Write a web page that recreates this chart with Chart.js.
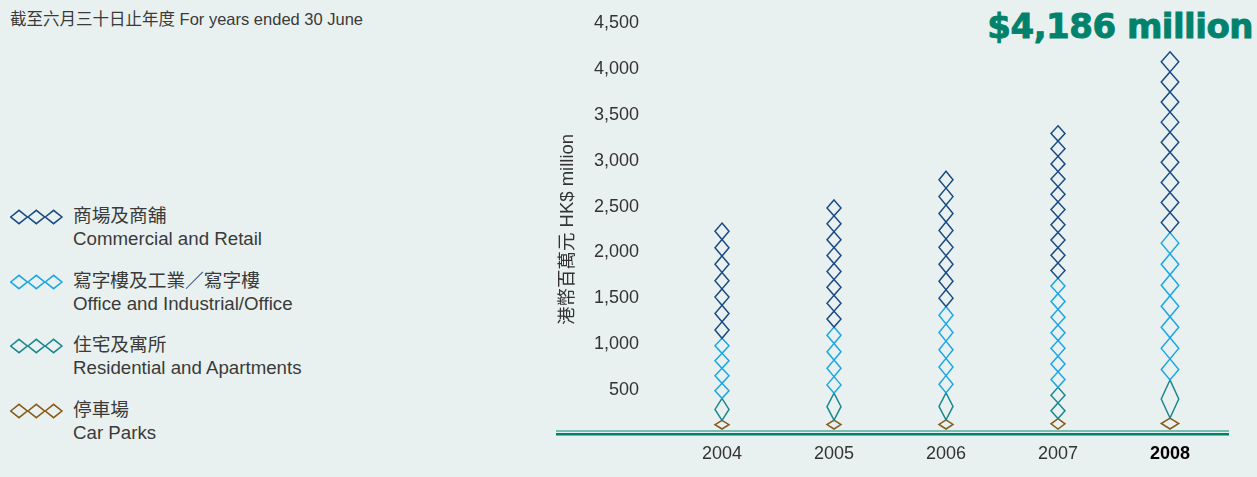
<!DOCTYPE html>
<html>
<head>
<meta charset="utf-8">
<script src="https://cdn.jsdelivr.net/npm/chart.js@4"></script>
<style>
  html, body { margin: 0; padding: 0; }
  body {
    width: 1257px; height: 477px; overflow: hidden; position: relative;
    background: #e9f1f0;
    font-family: "Liberation Sans", "Noto Sans CJK TC", sans-serif;
    color: #3a3a3a;
  }
  #wrap { position: absolute; left: 0; top: 0; width: 1257px; height: 477px; }
  .note { position: absolute; left: 10px; top: 6px; font-size: 16.5px; white-space: nowrap; }
  .total {
    position: absolute; right: 4px; top: 6px; white-space: nowrap;
    font-family: "DejaVu Sans", sans-serif; font-weight: bold; font-size: 34px;
    color: #00826c; letter-spacing: -0.5px; -webkit-text-stroke: 0.9px #00826c;
  }
  .legend { position: absolute; left: 10px; top: 204px; }
  .item { position: relative; height: 64.5px; }
  .item svg { position: absolute; left: 0; top: 5px; }
  .item .txt { position: absolute; left: 63px; top: 0; font-size: 18.7px; line-height: 23px; white-space: nowrap; }
</style>
</head>
<body>
<div class="note">截至六月三十日止年度 For years ended 30 June</div>
<div class="total">$4,186 million</div>
<div class="legend" id="legend"></div>
<div id="wrap"><canvas id="grafico-renda" width="1257" height="477"></canvas></div>
<script>
// exercicios e receita por segmento (HK$ milhoes)
const years = ['2004', '2005', '2006', '2007', '2008'];
const commercial = [1255, 1385, 1475, 1660, 1970];
const office = [655, 720, 940, 1190, 1605];
const residential = [240, 295, 295, 340, 415];
const carParks = [170, 172, 175, 190, 196];
const yTicks = [500, 1000, 1500, 2000, 2500, 3000, 3500, 4000, 4500];

// quantos losangos em cada segmento da coluna
const countsCommercial = [7, 8, 8, 10, 9];
const countsOffice = [4, 4, 5, 7, 7];
const countsResidential = [1, 1, 1, 2, 1];
const countsCarParks = [1, 1, 1, 1, 1];

const highlightYear = '2008';
const fontFamily = '"Liberation Sans", "Noto Sans CJK TC", sans-serif';

const series = [
    { zh: '停車場', en: 'Car Parks', data: carParks, counts: countsCarParks, color: '#8a5a1c', floor: true },
    { zh: '住宅及寓所', en: 'Residential and Apartments', data: residential, counts: countsResidential, color: '#1b8890' },
    { zh: '寫字樓及工業／寫字樓', en: 'Office and Industrial/Office', data: office, counts: countsOffice, color: '#1ba6e6' },
    { zh: '商場及商舖', en: 'Commercial and Retail', data: commercial, counts: countsCommercial, color: '#1a4c84' }
];

// legenda em html, de cima para baixo
var legend = document.getElementById('legend');
series.slice().reverse().forEach(function (s) {
    var item = document.createElement('div');
    item.className = 'item';
    var svg = '<svg width="54" height="16" viewBox="0 0 54 16">';
    for (var k = 0; k < 3; k++) {
        var cx = 9 + k * 17.3;
        svg += '<polygon points="' + (cx - 8.3) + ',8 ' + cx + ',1.3 ' + (cx + 8.3) + ',8 ' + cx + ',14.7" fill="none" stroke="' + s.color + '" stroke-width="1.6"/>';
    }
    svg += '</svg>';
    item.innerHTML = svg + '<div class="txt">' + s.zh + '<br>' + s.en + '</div>';
    legend.appendChild(item);
});

// desenha os losangos dentro de cada segmento empilhado
const diamondPlugin = {
    id: 'diamonds',
    afterDatasetsDraw(chart) {
        const ctx = chart.ctx;
        const y0 = chart.scales.y.getPixelForValue(0);
        chart.data.datasets.forEach((ds, di) => {
            const meta = chart.getDatasetMeta(di);
            meta.data.forEach((bar, i) => {
                const w = years[i] === highlightYear ? 17.5 : 14;
                const top = bar.y;
                let bottom = bar.base;
                if (ds.floor) bottom = Math.min(bottom, y0 - 7);
                const n = ds.counts[i];
                const h = (bottom - top) / n;
                ctx.save();
                ctx.strokeStyle = ds.borderColor;
                ctx.lineWidth = 1.5;
                for (let k = 0; k < n; k++) {
                    const t = top + k * h;
                    ctx.beginPath();
                    ctx.moveTo(bar.x, t);
                    ctx.lineTo(bar.x + w / 2, t + h / 2);
                    ctx.lineTo(bar.x, t + h);
                    ctx.lineTo(bar.x - w / 2, t + h / 2);
                    ctx.closePath();
                    ctx.stroke();
                }
                ctx.restore();
            });
        });
    }
};

// linha dupla da base
const baseLinePlugin = {
    id: 'baseLine',
    afterDraw(chart) {
        const ctx = chart.ctx;
        const y0 = chart.scales.y.getPixelForValue(0);
        const x1 = 556, x2 = chart.chartArea.right + 3;
        ctx.save();
        ctx.fillStyle = '#76bfb0';
        ctx.fillRect(x1, y0 - 6, x2 - x1, 2);
        ctx.fillStyle = '#00806a';
        ctx.fillRect(x1, y0 - 3, x2 - x1, 2.5);
        ctx.restore();
    }
};

new Chart(document.getElementById('grafico-renda'), {
    type: 'bar',
    data: {
        labels: years,
        datasets: series.map(s => ({
            label: s.en,
            data: s.data,
            counts: s.counts,
            floor: !!s.floor,
            backgroundColor: 'rgba(0,0,0,0)',
            borderColor: s.color,
            borderWidth: 0,
            barPercentage: 0.9,
            categoryPercentage: 0.14
        }))
    },
    options: {
        responsive: false,
        animation: false,
        layout: {
            padding: { top: 23, bottom: 0, left: 556, right: 31 }
        },
        plugins: {
            legend: { display: false },
            tooltip: { enabled: true }
        },
        scales: {
            x: {
                stacked: true,
                offset: true,
                grid: { display: false, drawTicks: false },
                border: { display: false },
                ticks: {
                    padding: 7,
                    color: c => years[c.index] === highlightYear ? '#000' : '#333',
                    font: c => ({ family: fontFamily, size: 18, weight: years[c.index] === highlightYear ? 'bold' : 'normal' })
                },
                afterFit: axis => { axis.height = 41; }
            },
            y: {
                stacked: true,
                min: 0,
                max: 4500,
                afterBuildTicks: axis => { axis.ticks = [0].concat(yTicks).map(v => ({ value: v })); },
                grid: { display: false, drawTicks: false },
                border: { display: false },
                ticks: {
                    padding: 27,
                    color: '#333',
                    font: { family: fontFamily, size: 18 },
                    callback: v => v === 0 ? '' : v.toLocaleString('en-US')
                },
                title: {
                    display: true,
                    text: '港幣百萬元 HK$ million',
                    color: '#333',
                    font: { family: fontFamily, size: 18.5 },
                    padding: { top: 0.5, bottom: 0 }
                },
                afterFit: axis => {
                    axis.width = 110;
                    axis.paddingTop = 0;
                    axis.paddingBottom = 0;
                }
            }
        }
    },
    plugins: [diamondPlugin, baseLinePlugin]
});
</script>
</body>
</html>
